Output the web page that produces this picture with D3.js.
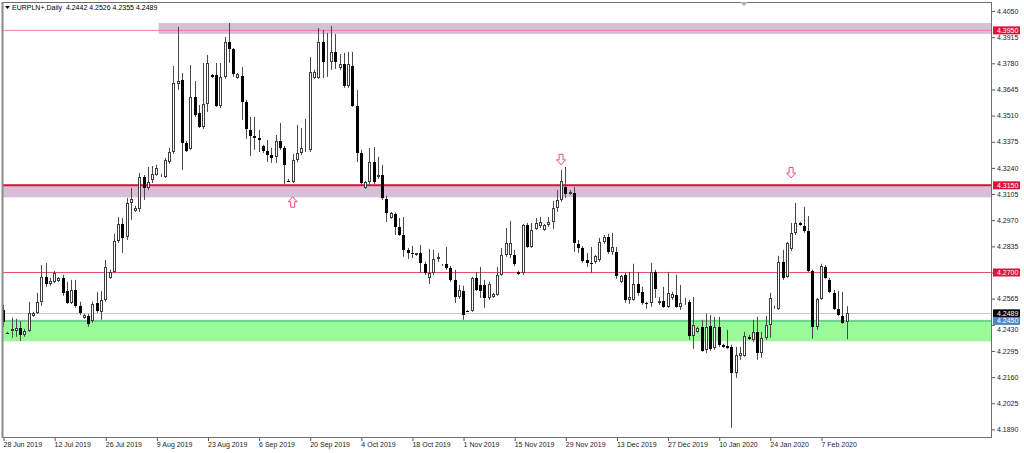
<!DOCTYPE html>
<html><head><meta charset="utf-8">
<script src="https://cdn.jsdelivr.net/npm/d3@7"></script>
<style>
body{margin:0;background:#fff}
svg{display:block}
text{font-family:"Liberation Sans",Arial,sans-serif}
</style>
</head><body>
<svg id="c" width="1024" height="453"></svg>
<script>
// ---------------- DATA ----------------
const symbol = "EURPLN+,Daily";
const startDate = "2019-06-28";   // first bar; bars run Sun–Fri (6 per week)
const open = [
4.2507,4.2389,4.2399,4.2399,4.2414,4.2378,4.2399,4.2476,4.2492,4.2549,
4.2677,4.2641,4.2652,4.2657,4.2672,4.2605,4.2543,4.2610,4.2528,4.2466,
4.2476,4.2450,4.2543,4.2497,4.2559,4.2672,4.2703,4.2863,4.2951,4.2884,
4.3059,4.3018,4.3029,4.3193,4.3137,4.3178,4.3204,4.3199,4.3193,4.3271,
4.3322,4.3673,4.3694,4.3369,4.3338,4.3606,4.3524,4.3451,4.3570,4.3720,
4.3720,4.3560,4.3710,4.3890,4.3854,4.3704,4.3715,4.3580,4.3436,4.3405,
4.3395,4.3353,4.3327,4.3307,4.3297,4.3379,4.3343,4.3173,4.3168,4.3281,
4.3317,4.3333,4.3333,4.3704,4.3704,4.3890,4.3782,4.3787,4.3839,4.3756,
4.3777,4.3663,4.3766,4.3560,4.3317,4.3137,4.3168,4.3271,4.3193,4.3204,
4.3080,4.2982,4.3003,4.2936,4.2894,4.2817,4.2801,4.2791,4.2801,4.2745,
4.2672,4.2698,4.2770,4.2739,4.2745,4.2724,4.2662,4.2574,4.2605,4.2502,
4.2502,4.2672,4.2636,4.2636,4.2569,4.2574,4.2585,4.2688,4.2791,4.2791,
4.2791,4.2703,4.2698,4.2946,4.2832,4.2925,4.2941,4.2920,4.2946,4.2961,
4.3034,4.3075,4.3142,4.3106,4.3111,4.2848,4.2827,4.2765,4.2750,4.2755,
4.2765,4.2858,4.2884,4.2807,4.2807,4.2652,4.2688,4.2559,4.2559,4.2641,
4.2600,4.2543,4.2543,4.2703,4.2543,4.2554,4.2523,4.2569,4.2585,4.2523,
4.2543,4.2549,4.2373,4.2394,4.2420,4.2301,4.2425,4.2311,4.2420,4.2327,
4.2322,4.2316,4.2182,4.2270,4.2270,4.2368,4.2352,4.2394,4.2286,4.2363,
4.2430,4.2518,4.2513,4.2755,4.2677,4.2822,4.2905,4.2956,4.2941,4.2915,
4.2708,4.2420,4.2564,4.2729,4.2662,4.2595,4.2513,4.2476,4.2442];
const high = [
4.2533,4.2394,4.2466,4.2461,4.2450,4.2409,4.2548,4.2497,4.2595,4.2739,
4.2749,4.2672,4.2708,4.2677,4.2688,4.2652,4.2662,4.2662,4.2549,4.2487,
4.2487,4.2549,4.2600,4.2605,4.2765,4.2714,4.2900,4.2987,4.2982,4.3085,
4.3137,4.3044,4.3214,4.3204,4.3245,4.3250,4.3256,4.3209,4.3291,4.3343,
4.3766,4.3968,4.3730,4.3379,4.3771,4.3689,4.3565,4.3782,4.3823,4.3725,
4.3782,4.3782,4.3916,4.3988,4.3859,4.3730,4.3761,4.3591,4.3503,4.3503,
4.3436,4.3359,4.3384,4.3343,4.3410,4.3472,4.3353,4.3183,4.3312,4.3462,
4.3446,4.3493,4.3813,4.3746,4.3962,4.3952,4.3937,4.3973,4.3931,4.3828,
4.3834,4.3839,4.3839,4.3642,4.3333,4.3173,4.3343,4.3348,4.3297,4.3256,
4.3096,4.3013,4.3010,4.2982,4.2987,4.2827,4.2837,4.2801,4.2842,4.2755,
4.2822,4.2817,4.2801,4.2744,4.2832,4.2734,4.2714,4.2636,4.2631,4.2507,
4.2677,4.2703,4.2729,4.2662,4.2652,4.2595,4.2729,4.2827,4.2930,4.2967,
4.2817,4.2708,4.2951,4.2956,4.2956,4.2982,4.2987,4.2951,4.2987,4.3070,
4.3126,4.3230,4.3245,4.3126,4.3142,4.2868,4.2837,4.2801,4.2832,4.2791,
4.2879,4.2894,4.2900,4.2905,4.2832,4.2688,4.2698,4.2703,4.2745,4.2703,
4.2626,4.2549,4.2750,4.2714,4.2574,4.2626,4.2703,4.2600,4.2688,4.2636,
4.2569,4.2559,4.2574,4.2420,4.2456,4.2487,4.2481,4.2471,4.2471,4.2332,
4.2404,4.2327,4.2316,4.2316,4.2394,4.2378,4.2456,4.2471,4.2394,4.2476,
4.2595,4.2528,4.2786,4.2817,4.2858,4.2956,4.3059,4.2961,4.3039,4.2992,
4.2714,4.2569,4.2745,4.2739,4.2672,4.2610,4.2605,4.2600,4.2526];
const low = [
4.2420,4.2383,4.2363,4.2368,4.2347,4.2368,4.2394,4.2471,4.2487,4.2528,
4.2626,4.2631,4.2646,4.2652,4.2580,4.2538,4.2538,4.2518,4.2481,4.2461,
4.2420,4.2440,4.2492,4.2456,4.2549,4.2667,4.2698,4.2853,4.2801,4.2868,
4.2972,4.3013,4.3013,4.3075,4.3126,4.3162,4.3199,4.3193,4.3188,4.3261,
4.3312,4.3642,4.3230,4.3322,4.3333,4.3503,4.3446,4.3441,4.3529,4.3704,
4.3555,4.3550,4.3700,4.3782,4.3710,4.3700,4.3488,4.3390,4.3302,4.3333,
4.3322,4.3317,4.3271,4.3266,4.3266,4.3333,4.3157,4.3168,4.3162,4.3271,
4.3307,4.3322,4.3322,4.3700,4.3700,4.3704,4.3710,4.3746,4.3751,4.3746,
4.3653,4.3653,4.3555,4.3271,4.3147,4.3132,4.3147,4.3157,4.3183,4.3075,
4.2961,4.2977,4.2894,4.2889,4.2781,4.2770,4.2775,4.2786,4.2698,4.2688,
4.2641,4.2688,4.2755,4.2734,4.2714,4.2652,4.2543,4.2564,4.2456,4.2497,
4.2497,4.2605,4.2569,4.2518,4.2559,4.2569,4.2580,4.2683,4.2781,4.2775,
4.2734,4.2688,4.2688,4.2827,4.2827,4.2920,4.2930,4.2915,4.2936,4.2925,
4.3013,4.3065,4.3085,4.3101,4.2807,4.2801,4.2750,4.2729,4.2698,4.2745,
4.2755,4.2848,4.2796,4.2791,4.2667,4.2646,4.2543,4.2538,4.2554,4.2580,
4.2533,4.2513,4.2523,4.2569,4.2533,4.2518,4.2518,4.2559,4.2518,4.2507,
4.2533,4.2352,4.2306,4.2389,4.2291,4.2285,4.2296,4.2301,4.2316,4.2311,
4.2306,4.1898,4.2156,4.2249,4.2265,4.2352,4.2342,4.2249,4.2260,4.2352,
4.2363,4.2513,4.2507,4.2662,4.2672,4.2812,4.2894,4.2941,4.2905,4.2703,
4.2358,4.2404,4.2559,4.2667,4.2595,4.2507,4.2476,4.2435,4.2355];
const close = [
4.2445,4.2386,4.2409,4.2414,4.2378,4.2399,4.2492,4.2492,4.2549,4.2677,
4.2641,4.2657,4.2698,4.2672,4.2595,4.2543,4.2610,4.2528,4.2492,4.2481,
4.2435,4.2538,4.2502,4.2559,4.2729,4.2703,4.2863,4.2951,4.2879,4.3059,
4.3080,4.3034,4.3193,4.3137,4.3168,4.3209,4.3240,4.3204,4.3281,4.3322,
4.3679,4.3689,4.3369,4.3327,4.3606,4.3513,4.3451,4.3570,4.3782,4.3710,
4.3560,4.3710,4.3890,4.3854,4.3725,4.3725,4.3580,4.3441,4.3405,4.3395,
4.3384,4.3327,4.3307,4.3291,4.3379,4.3343,4.3256,4.3171,4.3281,4.3317,
4.3343,4.3338,4.3735,4.3735,4.3890,4.3787,4.3787,4.3839,4.3787,4.3777,
4.3663,4.3777,4.3560,4.3317,4.3162,4.3168,4.3271,4.3168,4.3204,4.3085,
4.3008,4.3008,4.2936,4.2894,4.2817,4.2801,4.2796,4.2801,4.2750,4.2698,
4.2698,4.2770,4.2781,4.2741,4.2724,4.2662,4.2574,4.2610,4.2481,4.2500,
4.2672,4.2610,4.2605,4.2569,4.2641,4.2590,4.2688,4.2791,4.2853,4.2853,
4.2745,4.2693,4.2946,4.2832,4.2920,4.2956,4.2961,4.2946,4.2961,4.3034,
4.3075,4.3173,4.3106,4.3116,4.2853,4.2827,4.2760,4.2750,4.2745,4.2786,
4.2858,4.2884,4.2807,4.2832,4.2683,4.2683,4.2559,4.2574,4.2641,4.2595,
4.2543,4.2538,4.2703,4.2615,4.2554,4.2523,4.2595,4.2590,4.2523,4.2543,
4.2549,4.2373,4.2430,4.2414,4.2296,4.2420,4.2306,4.2420,4.2327,4.2316,
4.2311,4.2182,4.2275,4.2286,4.2373,4.2358,4.2394,4.2286,4.2363,4.2430,
4.2569,4.2520,4.2755,4.2672,4.2853,4.2905,4.2956,4.2946,4.2915,4.2708,
4.2420,4.2564,4.2734,4.2672,4.2600,4.2513,4.2481,4.2440,4.2489];

const priceTicks = [4.4050,4.3915,4.3780,4.3645,4.3510,4.3375,4.3240,4.3105,4.2970,
                    4.2835,4.2700,4.2565,4.2430,4.2295,4.2160,4.2025,4.1890];
const dateTickEvery = 12;             // bars between date labels
const levelLines = [4.3950, 4.3150, 4.2700];
const bidPrice = 4.2489;
const zonePurpleTop = [4.3932, 4.3988];
const zonePurpleTopStart = 37;
const zonePurpleMid = [4.3088, 4.3155];
const zoneGreen = [4.2345, 4.2456];
const greenLine = 4.2450;
const arrowsUp = [[68, 4.3091]];          // [bar, price of tip]
const arrowsDown = [[131, 4.3256], [185, 4.3188]];

// ---------------- BUILD ----------------
const N = open.length;
const dates = [];
{ let d = new Date(startDate + "T12:00:00");
  while (dates.length < N) { if (d.getDay() !== 6) dates.push(new Date(d)); d.setDate(d.getDate() + 1); } }
const bars = d3.range(N).map(i => ({i, o: open[i], h: high[i], l: low[i], c: close[i]}));

const W = 1024, H = 453;
const L = 2, R = 992, T = 2, B = 438;
const svg = d3.select("#c");
const x = d3.scalePoint().domain(d3.range(N)).range([3, 846.5]);
const y = d3.scaleLinear().domain([4.17681, 4.41068]).range([453, 0]);
const f4 = d3.format(".4f");

svg.append("rect").attr("width", W).attr("height", H).attr("fill", "#fff");
svg.append("defs").append("clipPath").attr("id", "pc")
  .append("rect").attr("x", L).attr("y", T).attr("width", R - L).attr("height", B - T);
const g = svg.append("g").attr("clip-path", "url(#pc)");

// zones
g.append("rect").attr("x", x(zonePurpleTopStart) - 2).attr("y", y(zonePurpleTop[1]))
  .attr("width", R - x(zonePurpleTopStart) + 2).attr("height", y(zonePurpleTop[0]) - y(zonePurpleTop[1]))
  .attr("fill", "#d8bfd8");
g.append("rect").attr("x", L).attr("y", y(zonePurpleMid[1]))
  .attr("width", R - L).attr("height", y(zonePurpleMid[0]) - y(zonePurpleMid[1]))
  .attr("fill", "#d8bfd8");
g.append("rect").attr("x", L).attr("y", y(zoneGreen[1]))
  .attr("width", R - L).attr("height", y(zoneGreen[0]) - y(zoneGreen[1]))
  .attr("fill", "#98fb98");
g.append("line").attr("x1", L).attr("x2", R).attr("y1", y(greenLine)).attr("y2", y(greenLine))
  .attr("stroke", "#62c48a").attr("stroke-width", 1.5);

// level lines
const lineStyle = [{c: "#f07e95", w: 1}, {c: "#dc143c", w: 2}, {c: "#e8506c", w: 1}];
levelLines.forEach((p, k) => {
  g.append("line").attr("x1", L).attr("x2", R).attr("y1", y(p)).attr("y2", y(p))
    .attr("stroke", lineStyle[k].c).attr("stroke-width", lineStyle[k].w);
});
// bid line
g.append("line").attr("x1", L).attr("x2", R).attr("y1", Math.round(y(bidPrice)) + 0.5)
  .attr("y2", Math.round(y(bidPrice)) + 0.5).attr("stroke", "#c8c8c8").attr("stroke-width", 1);

// candles
const cx = i => Math.round(x(i));
const cg = g.append("g");
cg.selectAll("line.w").data(bars).join("line").attr("class", "w")
  .attr("x1", d => cx(d.i) + 0.5).attr("x2", d => cx(d.i) + 0.5)
  .attr("y1", d => y(d.h)).attr("y2", d => y(d.l))
  .attr("stroke", "#4a4a4a").attr("stroke-width", 1);
cg.selectAll("rect.bear").data(bars.filter(d => d.c < d.o)).join("rect").attr("class", "bear")
  .attr("x", d => cx(d.i) - 1).attr("width", 3)
  .attr("y", d => Math.round(y(d.o)))
  .attr("height", d => Math.max(1, Math.round(y(d.c)) - Math.round(y(d.o))))
  .attr("fill", "#000");
cg.selectAll("rect.bull").data(bars.filter(d => d.c >= d.o)).join("rect").attr("class", "bull")
  .attr("x", d => cx(d.i) - 0.5).attr("width", 2)
  .attr("y", d => Math.round(y(d.c)) + 0.5)
  .attr("height", d => Math.max(0, Math.round(y(d.o)) - Math.round(y(d.c)) - 1))
  .attr("fill", "#fff").attr("stroke", "#3c3c3c").attr("stroke-width", 1);

// arrows
const arrowColor = "#ec4f6d";
arrowsUp.forEach(([i, p]) => {
  const X = x(i), Y = y(p);
  g.append("path").attr("d",
    `M${X},${Y} L${X-4.5},${Y+5} L${X-2},${Y+5} L${X-2},${Y+10.5} L${X+2},${Y+10.5} L${X+2},${Y+5} L${X+4.5},${Y+5} Z`)
    .attr("fill", "#fff").attr("stroke", arrowColor).attr("stroke-width", 1);
});
arrowsDown.forEach(([i, p]) => {
  const X = x(i), Y = y(p);
  g.append("path").attr("d",
    `M${X},${Y} L${X-4.5},${Y-5} L${X-2},${Y-5} L${X-2},${Y-10.5} L${X+2},${Y-10.5} L${X+2},${Y-5} L${X+4.5},${Y-5} Z`)
    .attr("fill", "#fff").attr("stroke", arrowColor).attr("stroke-width", 1);
});

// frame
svg.append("rect").attr("x", L + 0.5).attr("y", T + 0.5).attr("width", R - L - 1).attr("height", B - T - 1)
  .attr("fill", "none").attr("stroke", "#6e6e6e").attr("stroke-width", 1);
svg.append("line").attr("x1", L + 0.5).attr("x2", L + 0.5).attr("y1", T).attr("y2", B)
  .attr("stroke", "#8a8a8a").attr("stroke-width", 2);

// shift marker
svg.append("path").attr("d", "M740,2 L748,2 L744,6 Z").attr("fill", "#b0b0b0");

// right axis
const ya = svg.append("g").attr("transform", `translate(${R},0)`)
  .call(d3.axisRight(y).tickValues(priceTicks).tickSize(3).tickPadding(2).tickFormat(f4));
ya.select(".domain").remove();
ya.selectAll(".tick line").attr("stroke", "#555");
ya.selectAll(".tick text").attr("font-size", 7).attr("fill", "#222")
  .attr("font-family", '"Liberation Sans",Arial,sans-serif');
// label partly hidden by the 4.2450 box in the original: nudge it just below the box
ya.selectAll(".tick text").filter(d => Math.abs(d - 4.2430) < 1e-6).attr("dy", "0.95em");

// price label boxes
const boxes = [[levelLines[0], "#dc143c"], [levelLines[1], "#dc143c"], [levelLines[2], "#dc143c"],
               [bidPrice, "#000"], [greenLine, "#4a86c5"]];
boxes.forEach(([p, col]) => {
  const Y = y(p);
  svg.append("rect").attr("x", R + 1).attr("y", Y - 4).attr("width", 27).attr("height", 8).attr("fill", col);
  svg.append("text").attr("x", R + 5).attr("y", Y + 2.5).attr("font-size", 7).attr("fill", "#fff")
    .text(f4(p));
});

// bottom axis
const fmt = d3.timeFormat("%-d %b %Y");
const dateTicks = d3.range(0, N, dateTickEvery);
const xa = svg.append("g").attr("transform", `translate(0,${B})`)
  .call(d3.axisBottom(x).tickValues(dateTicks).tickSize(3).tickFormat(i => fmt(dates[i])));
xa.select(".domain").remove();
xa.selectAll(".tick line").attr("stroke", "#555").attr("transform", "translate(0.5,0)");
xa.selectAll(".tick text").attr("font-size", 7).attr("fill", "#222").attr("text-anchor", "start")
  .attr("x", 0).attr("y", 4.5).attr("dy", "0.71em")
  .attr("font-family", '"Liberation Sans",Arial,sans-serif');

// title
svg.append("path").attr("d", "M5,6 L10,6 L7.5,9 Z").attr("fill", "#000");
const last = N - 1;
svg.append("text").attr("x", 12).attr("y", 10).attr("font-size", 7).attr("fill", "#000")
  .attr("xml:space", "preserve")
  .text(`${symbol}  ${f4(open[last])} ${f4(high[last])} ${f4(low[last])} ${f4(close[last])}`);
</script>
</body></html>
